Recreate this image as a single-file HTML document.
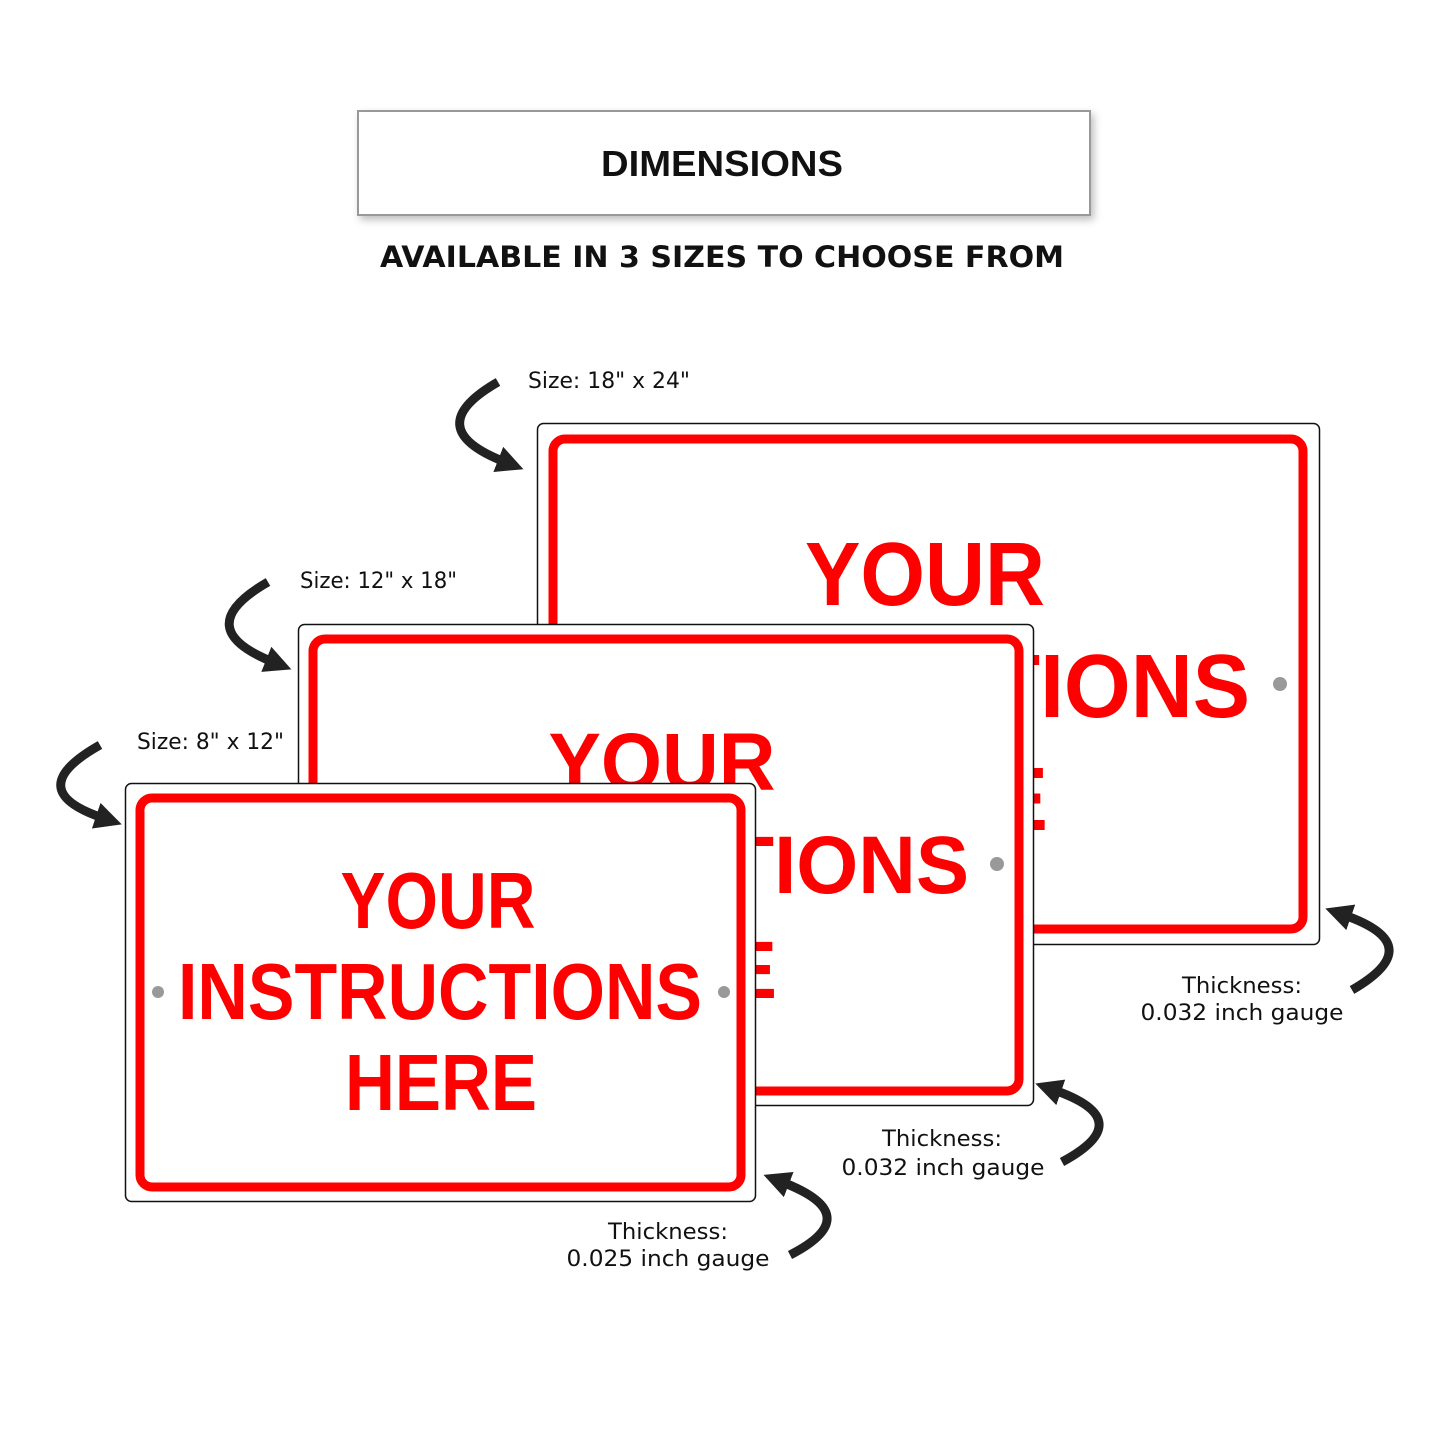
<!DOCTYPE html>
<html><head><meta charset="utf-8"><style>
html,body{margin:0;padding:0;background:#fff;}
svg{display:block;}
.s{font-family:"Liberation Sans Narrow","Liberation Sans",sans-serif;font-weight:bold;fill:#f00;}
.l{font-family:"DejaVu Sans","Liberation Sans",sans-serif;fill:#111;font-size:22px;}
</style></head><body>
<svg width="1445" height="1445" viewBox="0 0 1445 1445" xmlns="http://www.w3.org/2000/svg">
<defs>
<marker id="ah" markerWidth="3" markerHeight="3" refX="0.8" refY="1.5" orient="auto" markerUnits="strokeWidth">
<path d="M0,0 L3,1.5 L0,3 z" fill="#222"/>
</marker>
<filter id="sh" x="-5%" y="-20%" width="110%" height="150%"><feDropShadow dx="3" dy="4" stdDeviation="4" flood-color="#000" flood-opacity="0.25"/></filter>
</defs>
<rect x="358" y="111" width="732" height="104" fill="#fff" stroke="#999" stroke-width="2" filter="url(#sh)"/>
<text x="722" y="176" text-anchor="middle" font-family="Liberation Sans,sans-serif" font-weight="bold" font-size="36" fill="#111" textLength="242" lengthAdjust="spacingAndGlyphs">DIMENSIONS</text>
<text x="722" y="267" text-anchor="middle" font-family="DejaVu Sans,Liberation Sans,sans-serif" font-weight="bold" font-size="29" fill="#111" textLength="684" lengthAdjust="spacingAndGlyphs">AVAILABLE IN 3 SIZES TO CHOOSE FROM</text>

<!-- large sign -->
<rect x="537.5" y="423.5" width="782" height="521" rx="6" fill="#fff" stroke="#111" stroke-width="1.5"/>
<rect x="553" y="439" width="750" height="490" rx="12" fill="none" stroke="#f00" stroke-width="9"/>
<text class="s" x="925" y="605" text-anchor="middle" font-size="90" textLength="240" lengthAdjust="spacingAndGlyphs">YOUR</text>
<text class="s" x="928" y="717" text-anchor="middle" font-size="90" textLength="644" lengthAdjust="spacingAndGlyphs">INSTRUCTIONS</text>
<text class="s" x="928" y="830" text-anchor="middle" font-size="90" textLength="240" lengthAdjust="spacingAndGlyphs">HERE</text>
<circle cx="1280" cy="684" r="7" fill="#999"/>
<text class="l" x="528" y="388" textLength="162" lengthAdjust="spacingAndGlyphs">Size: 18" x 24"</text>
<path d="M498,382 Q418,428 505,462" fill="none" stroke="#222" stroke-width="9" marker-end="url(#ah)"/>

<!-- medium sign -->
<rect x="298.5" y="624.5" width="735" height="481" rx="6" fill="#fff" stroke="#111" stroke-width="1.5"/>
<rect x="313" y="639" width="706" height="452" rx="12" fill="none" stroke="#f00" stroke-width="9"/>
<text class="s" x="662" y="790" text-anchor="middle" font-size="82" textLength="227" lengthAdjust="spacingAndGlyphs">YOUR</text>
<text class="s" x="670" y="893" text-anchor="middle" font-size="82" textLength="598" lengthAdjust="spacingAndGlyphs">INSTRUCTIONS</text>
<text class="s" x="666" y="998" text-anchor="middle" font-size="82" textLength="222" lengthAdjust="spacingAndGlyphs">HERE</text>
<circle cx="997" cy="864" r="7" fill="#999"/>
<text class="l" x="300" y="588" textLength="157" lengthAdjust="spacingAndGlyphs">Size: 12" x 18"</text>
<path d="M268,582 Q188,628 273,662" fill="none" stroke="#222" stroke-width="9" marker-end="url(#ah)"/>

<!-- small sign -->
<rect x="125.5" y="783.5" width="630" height="418" rx="6" fill="#fff" stroke="#111" stroke-width="1.5"/>
<rect x="140" y="798" width="601" height="389" rx="12" fill="none" stroke="#f00" stroke-width="9"/>
<text class="s" x="438" y="928" text-anchor="middle" font-size="80" textLength="195" lengthAdjust="spacingAndGlyphs">YOUR</text>
<text class="s" x="440" y="1019" text-anchor="middle" font-size="80" textLength="524" lengthAdjust="spacingAndGlyphs">INSTRUCTIONS</text>
<text class="s" x="441" y="1110" text-anchor="middle" font-size="80" textLength="192" lengthAdjust="spacingAndGlyphs">HERE</text>
<circle cx="158" cy="992" r="6" fill="#999"/>
<circle cx="724" cy="992" r="6" fill="#999"/>
<text class="l" x="137" y="749" textLength="147" lengthAdjust="spacingAndGlyphs">Size: 8" x 12"</text>
<path d="M100,745 Q20,790 103,818" fill="none" stroke="#222" stroke-width="9" marker-end="url(#ah)"/>

<!-- thickness labels -->
<text class="l" x="1242" y="993" text-anchor="middle" textLength="120" lengthAdjust="spacingAndGlyphs">Thickness:</text>
<text class="l" x="1242" y="1020" text-anchor="middle" textLength="203" lengthAdjust="spacingAndGlyphs">0.032 inch gauge</text>
<path d="M1352,990 Q1430,945 1344,915" fill="none" stroke="#222" stroke-width="9" marker-end="url(#ah)"/>

<text class="l" x="942" y="1146" text-anchor="middle" textLength="120" lengthAdjust="spacingAndGlyphs">Thickness:</text>
<text class="l" x="943" y="1175" text-anchor="middle" textLength="203" lengthAdjust="spacingAndGlyphs">0.032 inch gauge</text>
<path d="M1062,1162 Q1140,1120 1054,1090" fill="none" stroke="#222" stroke-width="9" marker-end="url(#ah)"/>

<text class="l" x="668" y="1239" text-anchor="middle" textLength="120" lengthAdjust="spacingAndGlyphs">Thickness:</text>
<text class="l" x="668" y="1266" text-anchor="middle" textLength="203" lengthAdjust="spacingAndGlyphs">0.025 inch gauge</text>
<path d="M790,1255 Q868,1215 782,1182" fill="none" stroke="#222" stroke-width="9" marker-end="url(#ah)"/>
</svg>
</body></html>
